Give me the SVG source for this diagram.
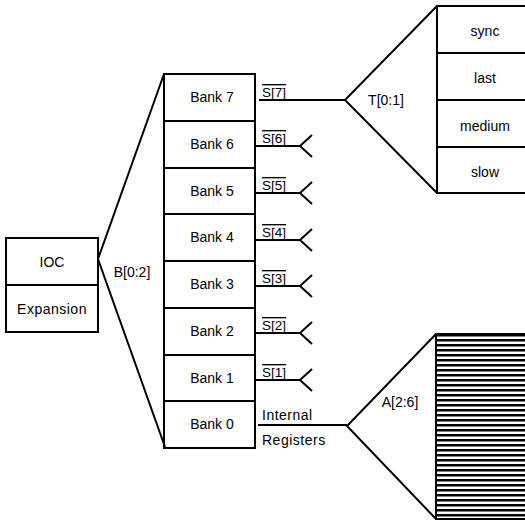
<svg xmlns="http://www.w3.org/2000/svg" width="525" height="521" viewBox="0 0 525 521">
<defs>
<style>
.box{fill:#fff;stroke:#000;stroke-width:2}
.ln{fill:none;stroke:#000;stroke-width:2}
.t{font-family:"Liberation Sans",Arial,sans-serif;font-size:14px;fill:#000;text-anchor:middle}
.s{font-family:"Liberation Sans",Arial,sans-serif;font-size:13.5px;fill:#000;text-decoration:overline}
.r{font-family:"Liberation Sans",Arial,sans-serif;font-size:14px;fill:#000;letter-spacing:0.5px}
</style>
<pattern id="hatch" patternUnits="userSpaceOnUse" x="0" y="334" width="10" height="5">
<rect x="0" y="0" width="10" height="2.5" fill="#000"/>
</pattern>
</defs>
<g id="ioc">
<rect class="box" x="6" y="238" width="92" height="94"/>
<line class="ln" x1="6" y1="285" x2="98" y2="285"/>
<text class="t" x="52" y="267">IOC</text>
<text class="t" x="52" y="314" letter-spacing="0.5">Expansion</text>
</g>
<g id="banks">
<rect class="box" x="164" y="74" width="91" height="374"/>
<line class="ln" x1="164" y1="121" x2="255" y2="121"/>
<line class="ln" x1="164" y1="168" x2="255" y2="168"/>
<line class="ln" x1="164" y1="214" x2="255" y2="214"/>
<line class="ln" x1="164" y1="261" x2="255" y2="261"/>
<line class="ln" x1="164" y1="308" x2="255" y2="308"/>
<line class="ln" x1="164" y1="355" x2="255" y2="355"/>
<line class="ln" x1="164" y1="401" x2="255" y2="401"/>
<text class="t" x="212" y="102">Bank 7</text>
<text class="t" x="212" y="149">Bank 6</text>
<text class="t" x="212" y="196">Bank 5</text>
<text class="t" x="212" y="242">Bank 4</text>
<text class="t" x="212" y="289">Bank 3</text>
<text class="t" x="212" y="336">Bank 2</text>
<text class="t" x="212" y="383">Bank 1</text>
<text class="t" x="212" y="429">Bank 0</text>
</g>
<g id="timing">
<rect class="box" x="437" y="6" width="100" height="187"/>
<line class="ln" x1="437" y1="53" x2="537" y2="53"/>
<line class="ln" x1="437" y1="100" x2="537" y2="100"/>
<line class="ln" x1="437" y1="147" x2="537" y2="147"/>
<text class="t" x="485" y="36">sync</text>
<text class="t" x="485" y="83">last</text>
<text class="t" x="485" y="131">medium</text>
<text class="t" x="485" y="177">slow</text>
</g>
<g id="registers">
<rect x="436" y="334" width="100" height="185" fill="url(#hatch)"/>
<rect x="436" y="334" width="100" height="185" fill="none" stroke="#000" stroke-width="2"/>
</g>
<g id="connectors">
<polyline class="ln" points="164,74 98,259 165,447"/>
<polyline class="ln" points="437,6 345,100 437,193"/>
<polyline class="ln" points="436,334 347,426 436,519"/>
<line class="ln" x1="259" y1="100" x2="345" y2="100"/>
<line class="ln" x1="258" y1="425" x2="347" y2="425"/>
<polyline class="ln" points="255,146 300,146"/>
<polyline class="ln" points="312,135 300,146 312,157"/>
<polyline class="ln" points="255,193 300,193"/>
<polyline class="ln" points="312,182 300,193 312,204"/>
<polyline class="ln" points="255,240 300,240"/>
<polyline class="ln" points="312,229 300,240 312,251"/>
<polyline class="ln" points="255,286 300,286"/>
<polyline class="ln" points="312,275 300,286 312,297"/>
<polyline class="ln" points="255,333 300,333"/>
<polyline class="ln" points="312,322 300,333 312,344"/>
<polyline class="ln" points="255,380 300,380"/>
<polyline class="ln" points="312,369 300,380 312,391"/>
</g>
<g id="labels">
<text class="t" x="132" y="277">B[0:2]</text>
<text class="t" x="386" y="105">T[0:1]</text>
<text class="t" x="400" y="407">A[2:6]</text>
<text class="s" x="262" y="97">S[7]</text>
<text class="s" x="262" y="143">S[6]</text>
<text class="s" x="262" y="190">S[5]</text>
<text class="s" x="262" y="237">S[4]</text>
<text class="s" x="262" y="283">S[3]</text>
<text class="s" x="262" y="330">S[2]</text>
<text class="s" x="262" y="377">S[1]</text>
<text class="r" x="262" y="420">Internal</text>
<text class="r" x="262" y="445">Registers</text>
</g>
</svg>
